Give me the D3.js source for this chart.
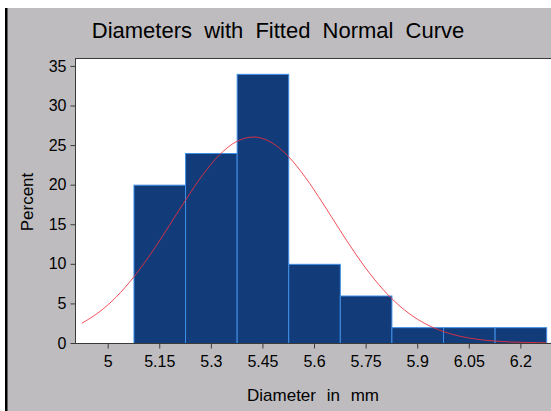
<!DOCTYPE html>
<html><head><meta charset="utf-8">
<script src="https://cdn.jsdelivr.net/npm/d3@7"></script>
<style>body{margin:0;background:#fff}svg{display:block}text{font-family:"Liberation Sans",Arial,sans-serif;fill:#000}</style>
</head><body>
<script>
const binCenters = [5.15, 5.3, 5.45, 5.6, 5.75, 5.9, 6.05, 6.2];
const percents = [20, 24, 34, 10, 6, 2, 2, 2];
const xTicks = [5, 5.15, 5.3, 5.45, 5.6, 5.75, 5.9, 6.05, 6.2];
const xTickLabels = ["5", "5.15", "5.3", "5.45", "5.6", "5.75", "5.9", "6.05", "6.2"];
const yTicks = [0, 5, 10, 15, 20, 25, 30, 35];
const curveX = [4.925,4.975,5.025,5.075,5.125,5.175,5.225,5.275,5.325,5.375,5.425,5.475,5.525,5.575,5.625,5.675,5.725,5.775,5.825,5.875,5.925,5.975,6.025,6.075,6.125,6.175,6.225,6.275];
const curveY = [2.50,3.90,5.82,8.29,11.24,14.55,17.96,21.15,23.76,25.46,26.02,25.36,23.58,20.91,17.69,14.28,10.99,8.07,5.65,3.77,2.40,1.46,0.85,0.47,0.25,0.12,0.06,0.03];
const binWidth = 0.15;

const W = 551, H = 411;
const svg = d3.select("body").append("svg").attr("width", W).attr("height", H);
svg.append("rect").attr("x",0).attr("y",0).attr("width",W).attr("height",H).attr("fill","#fff");
svg.append("rect").attr("x",6).attr("y",8).attr("width",W-6).attr("height",H-8).attr("fill","#bebcbf");
svg.append("rect").attr("x",5).attr("y",8).attr("width",2.5).attr("height",H-8).attr("fill","#000");

const L = 75, T = 58, B = 343, R = 551;
const x = d3.scaleLinear().domain([4.905, 6.289]).range([L, R]);
const y = d3.scaleLinear().domain([0, 36]).range([B, T]);

svg.append("rect").attr("x",L).attr("y",T).attr("width",R-L).attr("height",B-T).attr("fill","#fff");

const g = svg.append("g");
g.selectAll("rect.bar").data(binCenters).join("rect").attr("class","bar")
  .attr("x", (d)=>x(d-binWidth/2)+0.5)
  .attr("y", (d,i)=>y(percents[i])+0.5)
  .attr("width", (d)=>x(d+binWidth/2)-x(d-binWidth/2))
  .attr("height", (d,i)=>y(0)-y(percents[i]))
  .attr("fill","#123b7a").attr("stroke","#3f8fe6").attr("stroke-width",1);

const line = d3.line().x((d)=>x(d)).y((d,i)=>y(curveY[i])).curve(d3.curveMonotoneX);
g.append("path").datum(curveX).attr("d", line).attr("fill","none")
  .attr("stroke","#f0303c").attr("stroke-width",1).attr("stroke-opacity",0.85);

svg.append("line").attr("x1",L).attr("x2",R).attr("y1",T+0.5).attr("y2",T+0.5).attr("stroke","#3a3a3a");

const yAxis = d3.axisLeft(y).tickValues(yTicks).tickSize(5).tickPadding(4).tickFormat(d3.format("d"));
const ya = svg.append("g").attr("transform",`translate(${L+0.5},0)`).call(yAxis);
ya.select(".domain").attr("stroke","#3a3a3a").attr("d",`M0,${T}V${B}`);
ya.selectAll(".tick line").attr("stroke","#3a3a3a");
ya.selectAll("text").attr("font-size","16px").attr("font-family","'Liberation Sans',Arial,sans-serif");

const xAxis = d3.axisBottom(x).tickValues(xTicks).tickSize(5).tickPadding(7).tickFormat((d,i)=>xTickLabels[i]);
const xa = svg.append("g").attr("transform",`translate(0,${B+0.5})`).call(xAxis);
xa.select(".domain").attr("stroke","#3a3a3a").attr("d",`M${L},0H${R}`);
xa.selectAll(".tick line").attr("stroke","#3a3a3a");
xa.selectAll("text").attr("font-size","16px").attr("font-family","'Liberation Sans',Arial,sans-serif");

svg.append("text").attr("x",278).attr("y",38).attr("text-anchor","middle")
  .attr("font-size","22px").attr("word-spacing","6px")
  .text("Diameters with Fitted Normal Curve");
svg.append("text").attr("x",313).attr("y",401).attr("text-anchor","middle")
  .attr("font-size","17px").attr("word-spacing","6px")
  .text("Diameter in mm");
svg.append("text").attr("transform","translate(33,202) rotate(-90)").attr("text-anchor","middle")
  .attr("font-size","17px")
  .text("Percent");
</script>
</body></html>
